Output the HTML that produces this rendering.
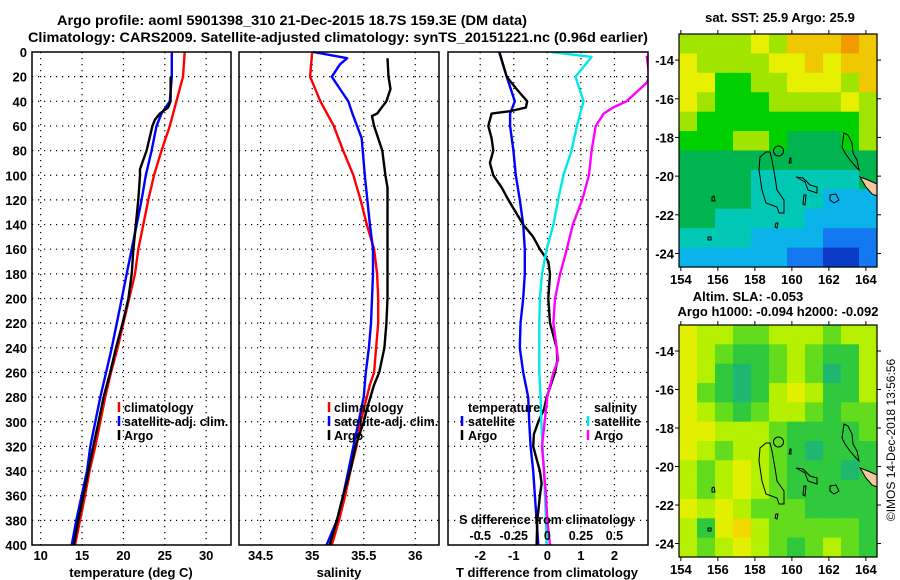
<!DOCTYPE html>
<html><head><meta charset="utf-8"><style>
html,body{margin:0;padding:0;background:#fff;}
svg{display:block;font-family:"Liberation Sans",sans-serif;font-weight:bold;}
</style></head><body>
<svg id="s" width="900" height="580" viewBox="0 0 900 580" xmlns="http://www.w3.org/2000/svg">
<text x="292" y="25" font-size="14" text-anchor="middle" textLength="470" lengthAdjust="spacingAndGlyphs">Argo profile: aoml 5901398_310 21-Dec-2015 18.7S 159.3E (DM data)</text>
<text x="338" y="42" font-size="14" text-anchor="middle" textLength="620" lengthAdjust="spacingAndGlyphs">Climatology: CARS2009. Satellite-adjusted climatology: synTS_20151221.nc (0.96d earlier)</text>
<g id="g1"></g>
<g id="g2"></g>
<g id="g3"></g>
<g id="m1"></g>
<g id="m2"></g>
<text x="780" y="22" font-size="13" text-anchor="middle">sat. SST: 25.9 Argo: 25.9</text>
<text x="748" y="301" font-size="13" text-anchor="middle">Altim. SLA: -0.053</text>
<text x="778" y="316" font-size="13" text-anchor="middle">Argo h1000: -0.094 h2000: -0.092</text>
<text transform="translate(895,440) rotate(-90)" font-size="12" font-weight="normal" text-anchor="middle">©IMOS 14-Dec-2018 13:56:56</text>
</svg>
<script>
// ---------- data ----------
const tClimDepth=[0,20,40,60,80,100,120,140,160,180,200,220,240,260,280,300,320,340,360,380,400];
const tClim=[27.4,27.2,26.4,25.6,24.6,23.7,23.0,22.4,21.8,21.4,20.7,20.0,19.3,18.5,17.8,17.2,16.6,15.9,15.35,14.75,14.15];
const tSatDepth=[0,20,40,50,60,80,100,120,140,160,180,200,220,240,260,280,300,320,340,360,380,400];
const tSat=[25.85,25.85,25.6,24.6,24.0,23.4,22.7,22.2,21.6,21.0,20.4,19.8,19.2,18.6,17.9,17.2,16.6,16.0,15.6,14.95,14.3,13.75];
const tArgoDepth=[20,40,45,50,55,60,80,95,100,120,140,160,180,200,220,240,260,280,300,320,340,360,380,400];
const tArgo=[25.7,25.7,25.4,24.4,23.8,23.5,22.8,22.0,22.0,21.8,21.5,21.2,21.0,20.6,19.9,19.1,18.4,17.6,17.0,16.35,15.75,15.15,14.55,14.0];
const sClimDepth=[0,20,40,60,80,100,120,140,160,180,200,220,240,260,270,300,320,340,360,380,400];
const sClim=[35.0,34.98,35.08,35.21,35.30,35.40,35.47,35.53,35.60,35.63,35.64,35.64,35.62,35.60,35.56,35.47,35.43,35.37,35.32,35.26,35.19];
const sSatDepth=[0,5,10,20,30,40,50,70,100,140,160,180,200,220,240,260,280,300,320,340,360,380,400];
const sSat=[35.01,35.34,35.27,35.19,35.27,35.35,35.39,35.48,35.51,35.56,35.59,35.59,35.58,35.57,35.55,35.52,35.50,35.45,35.40,35.35,35.30,35.24,35.14];
const sArgoDepth=[5,20,30,40,50,52,60,80,100,110,140,180,200,220,240,260,270,290,300,320,340,360,380,400];
const sArgo=[35.73,35.74,35.76,35.72,35.63,35.58,35.60,35.68,35.71,35.73,35.73,35.73,35.73,35.72,35.70,35.65,35.60,35.53,35.50,35.42,35.37,35.30,35.24,35.17];
const dTSatDepth=[0,20,40,50,60,80,100,120,140,160,180,200,220,240,260,280,300,320,340,360,380,400];
const dTSat=[-1.43,-1.21,-0.97,-1.11,-1.11,-1.01,-0.94,-0.82,-0.72,-0.67,-0.67,-0.72,-0.80,-0.82,-0.72,-0.57,-0.54,-0.50,-0.42,-0.37,-0.32,-0.27];
const dTArgoDepth=[0,20,30,40,45,48,50,60,70,80,90,100,110,120,140,150,160,170,180,200,220,240,250,260,280,290,300,310,320,340,350,360,380,400];
const dTArgo=[-1.43,-1.21,-0.92,-0.60,-0.64,-1.11,-1.66,-1.76,-1.66,-1.61,-1.71,-1.61,-1.36,-1.16,-0.72,-0.42,-0.22,0.03,0.08,0.03,0.08,0.28,0.30,0.23,-0.02,-0.10,-0.27,-0.40,-0.42,-0.22,-0.17,-0.22,-0.30,-0.32];
const dSSatDepth=[0,4,20,30,40,60,80,100,120,140,160,180,200,220,240,260,280,300,320,340,360,380,400];
const dSSat=[0.03,0.33,0.21,0.24,0.27,0.22,0.18,0.12,0.08,0.045,-0.005,-0.04,-0.055,-0.06,-0.06,-0.06,-0.05,-0.045,-0.035,-0.025,-0.017,-0.01,-0.005];
const dSArgoDepth=[3,20,25,40,45,50,60,80,100,120,140,160,180,200,220,240,250,260,280,300,320,340,360,380,400];
const dSArgo=[0.74,0.76,0.74,0.59,0.49,0.42,0.36,0.33,0.31,0.26,0.19,0.145,0.095,0.057,0.045,0.07,0.08,0.045,0.0,-0.02,-0.04,-0.025,-0.01,0.0,0.02];
const depthTicks=[0,20,40,60,80,100,120,140,160,180,200,220,240,260,280,300,320,340,360,380,400];
const tTicks=[10,15,20,25,30];
const sTicks=[34.5,35,35.5,36];
const sTickLabels=["34.5","35","35.5","36"];
const dTTicks=[-2,-1,0,1,2];
const dSTicks=[-0.5,-0.25,0,0.25,0.5];
const dSTickLabels=["-0.5","-0.25","0","0.25","0.5"];
const lonTicks=[154,156,158,160,162,164];
const latTicks=[-14,-16,-18,-20,-22,-24];
const sstGrid=[
[6,6,6,6,7,6,8,8,8,9,8],
[7,6,6,6,6,7,7,8,7,8,8],
[7,7,5,5,6,6,7,7,7,6,8],
[7,6,5,5,5,6,6,6,6,7,6],
[6,5,5,5,5,5,5,5,5,5,6],
[5,5,5,6,6,5,4,4,4,5,6],
[4,4,4,4,4,4,4,4,4,4,4],
[4,4,4,4,3,3,3,3,3,3,4],
[4,4,4,4,3,3,3,3,2,2,2],
[4,4,3,3,3,3,3,2,2,2,2],
[3,3,3,3,2,2,2,2,1,1,1],
[2,2,2,2,2,2,1,1,0,0,1]];
const slaGrid=[
[4,3,3,2,2,3,3,3,2,3,3],
[4,3,2,1,1,2,3,2,1,1,3],
[4,3,1,0,1,2,3,2,0,1,3],
[4,2,1,0,1,3,4,3,1,1,3],
[4,3,2,1,2,3,3,2,1,2,2],
[4,4,3,3,3,2,1,1,1,1,2],
[4,3,2,3,3,2,1,0,1,1,1],
[3,2,3,4,3,2,1,1,1,0,1],
[3,2,3,4,3,2,1,1,1,1,1],
[4,3,4,3,2,2,2,1,1,1,1],
[3,1,4,5,3,2,2,2,2,2,1],
[3,2,3,4,3,2,1,2,3,2,1]];
const sstColors=["#0a3cc8","#1478f0","#0ab4eb","#00c8b4","#00b450","#00d000","#a0e400","#e6f000","#f0c800","#f09a00"];
const slaColors=["#1eb870","#30c83c","#64dc1e","#b4f000","#e2f000","#f0d800"];

// ---------- helpers ----------
const NS="http://www.w3.org/2000/svg";
function mk(parent,tag,attrs){const e=document.createElementNS(NS,tag);for(const k in attrs)e.setAttribute(k,attrs[k]);parent.appendChild(e);return e;}
const TOP=52,BOT=545;
const yD=d=>TOP+d*(BOT-TOP)/400;
function panel(g,x0,x1,dom,gridVals){
  const xs=v=>x0+(v-dom[0])*(x1-x0)/(dom[1]-dom[0]);
  for(const d of depthTicks){ if(d===0||d===400)continue;
    const l=mk(g,'line',{x1:x0,x2:x1,y1:yD(d),y2:yD(d),stroke:'#000','stroke-width':1.2,'stroke-dasharray':'1.2 4.8'});
    
    
  }
  for(const v of gridVals){
    const l=mk(g,'line',{x1:xs(v),x2:xs(v),y1:TOP,y2:BOT,stroke:'#000','stroke-width':1.2,'stroke-dasharray':'1.2 4.8'});
    
    
  }
  return xs;
}
function series(g,xs,depths,vals,color,name,clip){
  const pts=depths.map((d,i)=>xs(vals[i]).toFixed(1)+','+yD(d).toFixed(1)).join(' ');
  const p=mk(g,'polyline',{points:pts,fill:'none',stroke:color,'stroke-width':2.4,'stroke-linejoin':'round'});
  if(clip)p.setAttribute('clip-path','url(#'+clip+')');
  
  
}
function frame(g,x0,x1,name){
  const r=mk(g,'rect',{x:x0,y:TOP,width:x1-x0,height:BOT-TOP,fill:'none',stroke:'#000','stroke-width':1.5});
  
  
}
function txt(g,x,y,s,anchor,size,name){
  const t=mk(g,'text',{x:x,y:y,'font-size':size||13,'text-anchor':anchor||'middle'});
  t.textContent=s;
  
  
  return t;
}
function legendMark(g,x,y,color){
  const l=mk(g,'line',{x1:x,x2:x,y1:y-10,y2:y,stroke:color,'stroke-width':2.5});
  
  
}
const svg=document.getElementById('s');
const defs=mk(svg,'defs',{});
const cp=mk(defs,'clipPath',{id:'c3'});
mk(cp,'rect',{x:448,y:TOP,width:200,height:BOT-TOP});

// ---------- panel 1 ----------
const g1=document.getElementById('g1');
const x1s=panel(g1,32,231,[8.95,33],tTicks);
series(g1,x1s,tClimDepth,tClim,'#ff0000','temp-climatology-line');
series(g1,x1s,tSatDepth,tSat,'#0000ff','temp-satellite-line');
series(g1,x1s,tArgoDepth,tArgo,'#000000','temp-argo-line');
frame(g1,32,231,'temperature-axes-frame');
for(const d of depthTicks) txt(g1,27,yD(d)+5,String(d),'end',13,'depth-tick-label');
for(const v of tTicks) txt(g1,x1s(v),560,String(v),'middle',13,'temp-tick-label');
txt(g1,131,577,'temperature (deg C)','middle',13,'temperature-axis-title');
legendMark(g1,119,412,'#ff0000');txt(g1,124,412,'climatology','start',12.5,'legend-climatology');
legendMark(g1,119,426,'#0000ff');txt(g1,124,426,'satellite-adj. clim.','start',12.5,'legend-satellite-adj');
legendMark(g1,119,440,'#000000');txt(g1,124,440,'Argo','start',12.5,'legend-argo');

// ---------- panel 2 ----------
const g2=document.getElementById('g2');
const x2s=panel(g2,239,439,[34.29,36.23],sTicks);
series(g2,x2s,sClimDepth,sClim,'#ff0000','sal-climatology-line');
series(g2,x2s,sSatDepth,sSat,'#0000ff','sal-satellite-line');
series(g2,x2s,sArgoDepth,sArgo,'#000000','sal-argo-line');
frame(g2,239,439,'salinity-axes-frame');
sTicks.forEach((v,i)=>txt(g2,x2s(v),560,sTickLabels[i],'middle',13,'sal-tick-label'));
txt(g2,339,577,'salinity','middle',13,'salinity-axis-title');
legendMark(g2,329,412,'#ff0000');txt(g2,334,412,'climatology','start',12.5,'legend-climatology');
legendMark(g2,329,426,'#0000ff');txt(g2,334,426,'satellite-adj. clim.','start',12.5,'legend-satellite-adj');
legendMark(g2,329,440,'#000000');txt(g2,334,440,'Argo','start',12.5,'legend-argo');

// ---------- panel 3 ----------
const g3=document.getElementById('g3');
const x3s=panel(g3,448,648,[-2.96,3.0],dTTicks);
const xSs=v=>x3s(v*4);
series(g3,x3s,dTSatDepth,dTSat,'#0000ff','dT-satellite-line','c3');
series(g3,x3s,dTArgoDepth,dTArgo,'#000000','dT-argo-line','c3');
series(g3,xSs,dSSatDepth,dSSat,'#00e8e8','dS-satellite-line','c3');
series(g3,xSs,dSArgoDepth,dSArgo,'#ff00ff','dS-argo-line','c3');
frame(g3,448,648,'difference-axes-frame');
for(const v of dTTicks) txt(g3,x3s(v),560,String(v),'middle',13,'dT-tick-label');
txt(g3,547,577,'T difference from climatology','middle',13,'dT-axis-title');
txt(g3,547,524,'S difference from climatology','middle',12.5,'dS-axis-title');
dSTicks.forEach((v,i)=>txt(g3,xSs(v),540,dSTickLabels[i],'middle',12.5,'dS-tick-label'));
txt(g3,468,412,'temperature','start',12.5,'legend-temperature-header');
legendMark(g3,462,426,'#0000ff');txt(g3,468,426,'satellite','start',12.5,'legend-t-satellite');
legendMark(g3,462,440,'#000000');txt(g3,468,440,'Argo','start',12.5,'legend-t-argo');
txt(g3,594,412,'salinity','start',12.5,'legend-salinity-header');
legendMark(g3,588,426,'#00e8e8');txt(g3,594,426,'satellite','start',12.5,'legend-s-satellite');
legendMark(g3,588,440,'#ff00ff');txt(g3,594,440,'Argo','start',12.5,'legend-s-argo');

// ---------- maps ----------
const LON=[153.9,164.6],LAT=[-12.65,-24.7];
function map(g,top,bot,grid,colors,name){
  const L=679,R=877;
  const lx=v=>L+(v-LON[0])*(R-L)/(LON[1]-LON[0]);
  const ly=v=>top+(v-LAT[0])*(bot-top)/(LAT[1]-LAT[0]);
  const rows=grid.length,cols=grid[0].length;
  const cw=(R-L)/cols,ch=(bot-top)/rows;
  for(let r=0;r<rows;r++)for(let c=0;c<cols;c++){
    const e=mk(g,'rect',{x:(L+c*cw).toFixed(2),y:(top+r*ch).toFixed(2),width:(cw+0.6).toFixed(2),height:(ch+0.6).toFixed(2),fill:colors[grid[r][c]]});
    
    
  }
  const dy=top-34;
  const coast=mk(g,'g',{transform:'translate(0,'+dy+')',fill:'none',stroke:'#000','stroke-width':1});
  
  
  mk(coast,'polygon',{points:'766,152 770,152 772,160 775,177 777,190 784,200 784,213 779,213 777,207 766,203 762,190 759,170 760,157'});
  mk(coast,'polygon',{points:'796,177 803,178 810,185 817,187 817,193 808,190 805,182'});
  mk(coast,'polygon',{points:'844,133 848,135 852,143 853,153 857,160 859,170 856,167 850,160 845,153 842,147 843,140'});
  mk(coast,'polygon',{points:'830,195 836,194 839,200 834,203 830,200'});
  mk(coast,'polygon',{points:'804,195 806,195 805,205 803,204'});
  mk(coast,'polygon',{points:'712,197 714,196 715,201 712,201'});
  mk(coast,'polygon',{points:'708,237 711,237 711,240 708,240'});
  mk(coast,'polygon',{points:'776,223 778,223 777,228 775,227'});
  mk(coast,'polygon',{points:'790,158 791,158 791,163 789,163'});
  mk(coast,'circle',{cx:778.5,cy:151,r:5});
  const land=mk(coast,'polygon',{points:'860,177 868,180 877,184 877,196 872,194 866,187',fill:'#f6c8a0'});
  
  
  const f=mk(g,'rect',{x:L,y:top,width:R-L,height:bot-top,fill:'none',stroke:'#000','stroke-width':1.2});
  
  
  for(const v of lonTicks){
    mk(g,'line',{x1:lx(v),x2:lx(v),y1:top,y2:top-4,stroke:'#000'});
    mk(g,'line',{x1:lx(v),x2:lx(v),y1:bot,y2:bot+4,stroke:'#000'});
    txt(g,lx(v),bot+17,String(v),'middle',13,'lon-tick-label');
  }
  for(const v of latTicks){
    mk(g,'line',{x1:L,x2:L-4,y1:ly(v),y2:ly(v),stroke:'#000'});
    mk(g,'line',{x1:R,x2:R+4,y1:ly(v),y2:ly(v),stroke:'#000'});
    txt(g,674,ly(v)+5,String(v),'end',13,'lat-tick-label');
  }
}
map(document.getElementById('m1'),34,267,sstGrid,sstColors,'sst-map');
map(document.getElementById('m2'),325,557,slaGrid,slaColors,'sla-map');
</script>
</body></html>
